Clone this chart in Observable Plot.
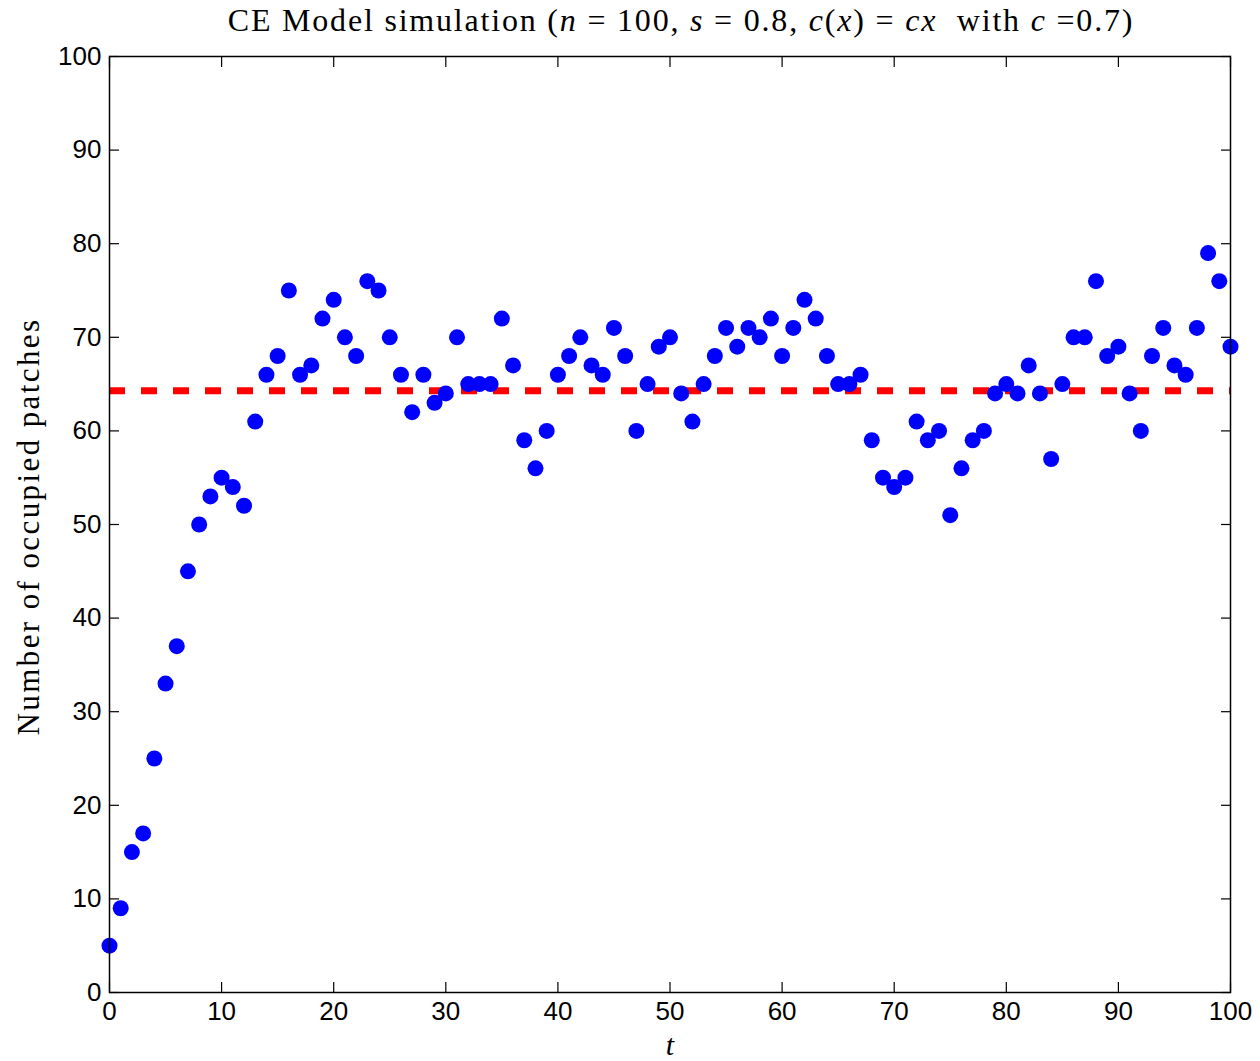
<!DOCTYPE html>
<html><head><meta charset="utf-8">
<script src="https://cdn.jsdelivr.net/npm/d3@7"></script>
<script src="https://cdn.jsdelivr.net/npm/@observablehq/plot@0.6"></script>
<style>
html,body{margin:0;padding:0;background:#fff;}
#wrap{position:relative;width:1260px;height:1061px;}
#title{position:absolute;left:0;top:2px;width:1362px;text-align:center;font-family:"Liberation Serif","DejaVu Serif",serif;font-size:32px;letter-spacing:1.8px;color:#000;white-space:pre;}
#title i{font-style:italic;}
.ylab{letter-spacing:2.4px;}
</style></head>
<body>
<div id="wrap">
<div id="title">CE Model simulation (<i>n</i> = 100, <i>s</i> = 0.8, <i>c</i>(<i>x</i>) = <i>cx</i>  with <i>c</i> =0.7)</div>
</div>
<script>
const t = d3.range(0, 101);
const occupied = [5,9,15,17,25,33,37,45,50,53,55,54,52,61,66,68,75,66,67,72,74,70,68,76,75,70,66,62,66,63,64,70,65,65,65,72,67,59,56,60,66,68,70,67,66,71,68,60,65,69,70,64,61,65,68,71,69,71,70,72,68,71,74,72,68,65,65,66,59,55,54,55,61,59,60,51,56,59,60,64,65,64,67,64,57,65,70,70,76,68,69,64,60,68,71,67,66,71,79,76,69];
const equilibrium = 64.3;
const xTicks = [0,10,20,30,40,50,60,70,80,90,100];
const yTicks = [0,10,20,30,40,50,60,70,80,90,100];

const data = t.map((v,i)=>({t:v, n:occupied[i]}));
const font = "Liberation Sans, Arial, Helvetica, sans-serif";

const chart = Plot.plot({
  width: 1260, height: 1061,
  marginLeft: 109, marginRight: 30, marginTop: 56, marginBottom: 69,
  style: {fontFamily: font, fontSize: "26px", color: "#000", background: "#fff", overflow: "visible"},
  x: {domain: [0,100], ticks: xTicks},
  y: {domain: [0,100], ticks: yTicks},
  marks: [
    Plot.ruleY([equilibrium], {stroke: "#ff0000", strokeWidth: 7, strokeDasharray: "16,16"}),
    Plot.dot(data, {x: "t", y: "n", r: 8, fill: "#0000ff", stroke: "none"}),
    Plot.frame({stroke: "#000", strokeWidth: 1.5}),
    Plot.axisX({ticks: xTicks, tickSize: -10, tickPadding: 19, label: null, tickFormat: d=>String(d), stroke:"#000", strokeWidth: 1.2}),
    Plot.axisX({ticks: xTicks, anchor: "top", tickSize: -10, tickFormat: () => "", label: null, stroke:"#000", strokeWidth: 1.2}),
    Plot.axisY({ticks: yTicks, tickSize: -10, tickPadding: 18, label: null, tickFormat: d=>String(d), stroke:"#000", strokeWidth: 1.2}),
    Plot.axisY({ticks: yTicks, anchor: "right", tickSize: -10, tickFormat: () => "", label: null, stroke:"#000", strokeWidth: 1.2}),
    Plot.text(["t"], {frameAnchor: "bottom", dy: 62, fontFamily: "Liberation Serif, DejaVu Serif, serif", fontStyle: "italic", fontSize: 30, fill: "#000"}),
    Plot.text(["Number of occupied patches"], {frameAnchor: "left", dx: -80, dy: 2, rotate: -90, textAnchor: "middle", className: "ylab", fontFamily: "Liberation Serif, DejaVu Serif, serif", fontSize: 31, fill: "#000"})
  ]
});
document.getElementById("wrap").appendChild(chart);
</script>
</body></html>
